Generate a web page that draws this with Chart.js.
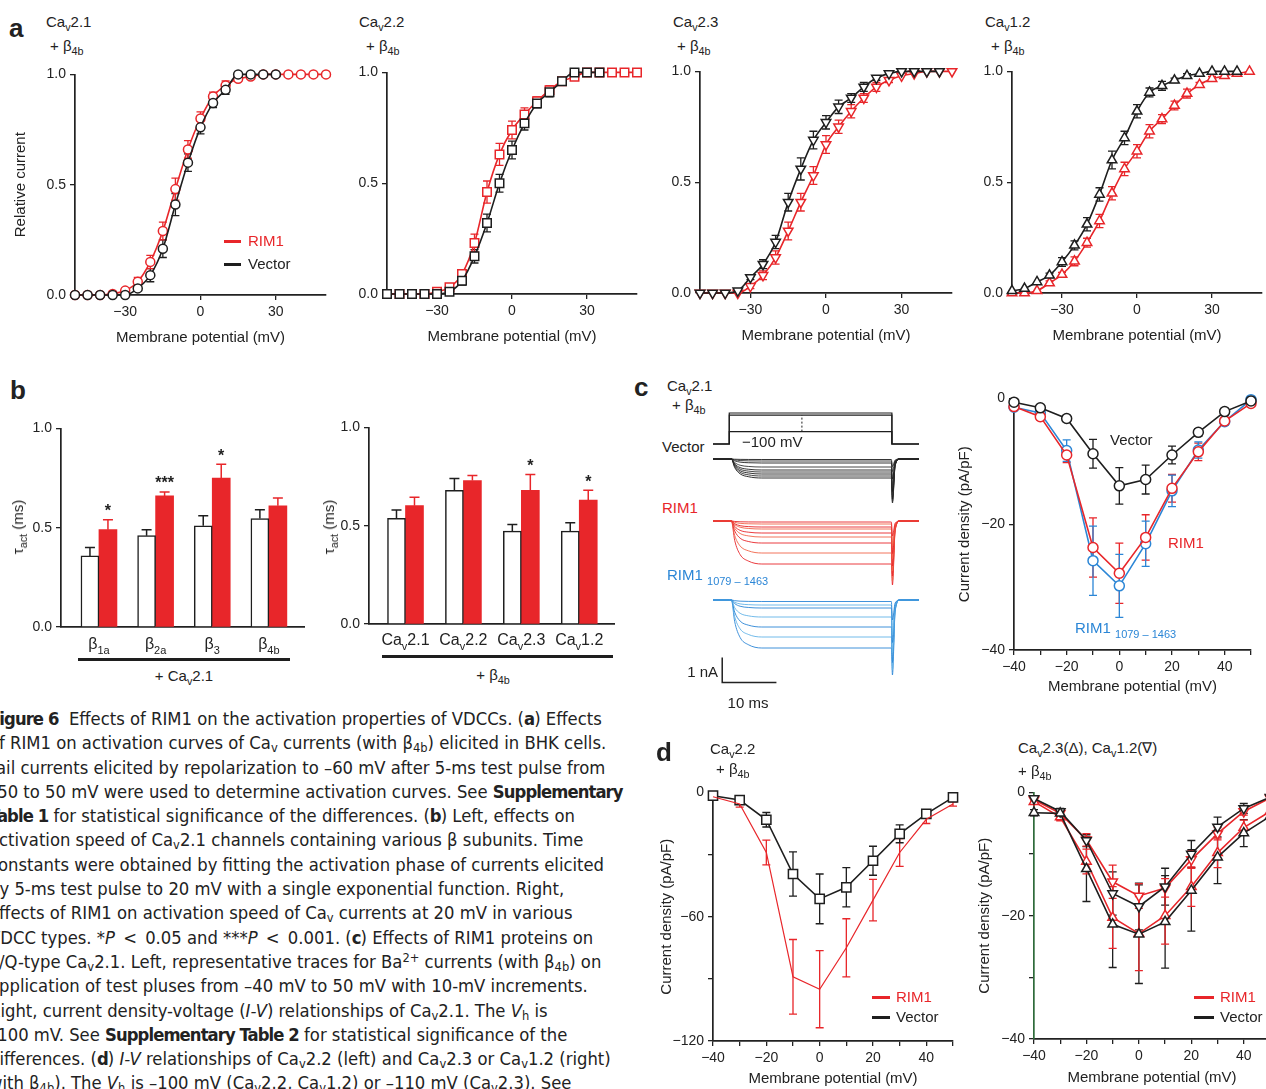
<!DOCTYPE html>
<html>
<head>
<meta charset="utf-8">
<script src="https://cdn.jsdelivr.net/npm/chart.js@4.4.1/dist/chart.umd.min.js"></script>
<style>
html, body { margin: 0; padding: 0; background: #fff; overflow: hidden; }
#page { position: relative; width: 1266px; height: 1089px; overflow: hidden; background: #fff;
        font-family: "Liberation Sans", Arial, Helvetica, sans-serif; color: #222; }
#page canvas { position: absolute; }
.t { position: absolute; white-space: nowrap; font-size: 14px; line-height: 16px; }
.big { font-size: 15px; }
.panel { font-weight: bold; font-size: 26px; line-height: 28px; }
.t sub { font-size: 72%; vertical-align: -0.35em; line-height: 0; }
.red { color: #e8262a; }
.blue { color: #2b86d6; }
.key { position: absolute; height: 3px; }
#caption { position: absolute; left: -11px; top: 707px; transform-origin: 0 0; transform: scaleX(1.015);
           font-family: "Liberation Sans Narrow", "DejaVu Sans Condensed", "Liberation Sans", sans-serif;
           font-size: 18px; color: #222; }
#caption div { height: 24.3px; line-height: 24.3px; white-space: nowrap; }
#caption b { letter-spacing: -0.9px; }
#caption sub { font-size: 70%; vertical-align: -0.25em; line-height: 0; }
#caption sup { font-size: 70%; vertical-align: 0.5em; line-height: 0; }
</style>
</head>
<body>
<div id="page"></div>
<script>
// ---- data ----
const aVolts = [-50, -45, -40, -35, -30, -25, -20, -15, -10, -5, 0, 5, 10, 15, 20, 25, 30, 35, 40, 45, 50];

// a: relative current (activation curves)
const a1Rim = [0, 0, 0, 0.005, 0.02, 0.06, 0.15, 0.29, 0.48, 0.66, 0.80, 0.90, 0.95, 0.98, 0.99, 1, 1, 1, 1, 1, 1];
const a1RimErr = [0, 0, 0, 0, 0.01, 0.02, 0.03, 0.04, 0.05, 0.04, 0.03, 0.02, 0.02, 0.01, 0, 0, 0, 0, 0, 0, 0];
const a1Vec = [0, 0, 0, 0, 0, 0.03, 0.09, 0.21, 0.41, 0.60, 0.76, 0.87, 0.93, 1, 1, 1, 1];
const a1VecErr = [0, 0, 0, 0, 0, 0.01, 0.03, 0.04, 0.05, 0.04, 0.03, 0.02, 0.02, 0, 0, 0, 0];

const a2Rim = [0, 0, 0, 0, 0.01, 0.03, 0.09, 0.23, 0.46, 0.63, 0.74, 0.81, 0.87, 0.92, 0.96, 0.98, 1, 1, 1, 1, 1];
const a2RimErr = [0, 0, 0, 0, 0, 0.01, 0.02, 0.04, 0.05, 0.05, 0.04, 0.03, 0.02, 0.02, 0.01, 0, 0, 0, 0, 0, 0];
const a2Vec = [0, 0, 0, 0, 0, 0.01, 0.06, 0.17, 0.32, 0.50, 0.65, 0.77, 0.86, 0.91, 0.96, 1, 1, 1];
const a2VecErr = [0, 0, 0, 0, 0, 0.01, 0.02, 0.03, 0.04, 0.04, 0.04, 0.03, 0.02, 0.02, 0.01, 0, 0, 0];

const a3Rim = [0, 0, 0, 0, 0.03, 0.08, 0.16, 0.28, 0.41, 0.53, 0.67, 0.75, 0.82, 0.88, 0.93, 0.96, 0.98, 0.99, 1, 1, 1];
const a3RimErr = [0, 0, 0, 0, 0.01, 0.02, 0.03, 0.04, 0.04, 0.04, 0.04, 0.03, 0.03, 0.02, 0.02, 0.01, 0, 0, 0, 0, 0];
const a3Vec = [0, 0, 0, 0.01, 0.07, 0.13, 0.23, 0.41, 0.56, 0.69, 0.77, 0.84, 0.88, 0.93, 0.97, 0.99, 1, 1, 1, 1];
const a3VecErr = [0, 0, 0, 0, 0.01, 0.02, 0.03, 0.04, 0.05, 0.04, 0.03, 0.03, 0.02, 0.02, 0.01, 0, 0, 0, 0, 0];

const a4Rim = [0, 0, 0.01, 0.045, 0.083, 0.143, 0.227, 0.325, 0.45, 0.56, 0.64, 0.73, 0.785, 0.846, 0.90, 0.94, 0.967, 0.98, 0.99, 1];
const a4RimErr = [0, 0, 0, 0.01, 0.01, 0.02, 0.02, 0.03, 0.03, 0.03, 0.03, 0.03, 0.02, 0.02, 0.02, 0.01, 0.01, 0, 0, 0];
const a4Vec = [0.01, 0.02, 0.05, 0.08, 0.14, 0.215, 0.31, 0.445, 0.60, 0.70, 0.82, 0.905, 0.935, 0.96, 0.98, 0.99, 1, 1, 1];
const a4VecErr = [0, 0, 0, 0.01, 0.02, 0.02, 0.03, 0.03, 0.04, 0.03, 0.03, 0.02, 0.02, 0.01, 0.01, 0, 0, 0, 0];

const aXTicks = [-30, 0, 30];
const aYTicks = [0, 0.5, 1];
const aYLabels = ["0.0", "0.5", "1.0"];

// b: activation time constants (ms)
const betaLabels = ["\u03B2_{1a}", "\u03B2_{2a}", "\u03B2_{3}", "\u03B2_{4b}"];
const tauVecBeta = [0.358, 0.46, 0.51, 0.546];
const tauVecBetaErr = [0.042, 0.03, 0.05, 0.044];
const tauRimBeta = [0.49, 0.66, 0.75, 0.61];
const tauRimBetaErr = [0.05, 0.02, 0.07, 0.04];
const starsBeta = ["*", "***", "*", ""];

const cavLabels = ["Ca_{v}2.1", "Ca_{v}2.2", "Ca_{v}2.3", "Ca_{v}1.2"];
const tauVecCav = [0.538, 0.68, 0.472, 0.472];
const tauVecCavErr = [0.042, 0.06, 0.034, 0.043];
const tauRimCav = [0.602, 0.73, 0.68, 0.63];
const tauRimCavErr = [0.043, 0.025, 0.08, 0.05];
const starsCav = ["", "", "*", "*"];

// c left: current traces (ms, nA)
const traceT = [-3, 0, 0.4, 1, 2, 3.5, 6, 29.9, 30.1, 30.6, 31.5, 35];
const activationFrac = [0, 0, 0, 0.45, 0.78, 0.93, 1, 1];
const tailFrac = [1, 0.15, 0, 0];
const vectorLevels = [-0.02, -0.08, -0.16, -0.32, -0.44, -0.52, -0.6, -0.68, -0.76];
const vectorTails = [-0.3, -0.5, -0.8, -1.1, -1.3, -1.45, -1.6, -1.7, -1.76];
const rimLevels = [-0.04, -0.12, -0.24, -0.32, -0.48, -0.64, -0.88, -1.28, -1.72];
const rimTails = [-0.6, -1.0, -1.3, -1.5, -1.8, -2.0, -2.2, -2.4, -2.56];
const fragLevels = [-0.06, -0.2, -0.32, -0.68, -1.08, -1.48, -1.92];
const fragTails = [-0.8, -1.4, -1.7, -2.1, -2.5, -2.8, -3.0];
const protocolSteps = [-40, 40, 50];
const protocolHold = -100;
const pulseStart = 0;
const pulseEnd = 30;
const protocolDotT = 13.4;

// c right / d: I-V relationships (pA/pF)
const ivVolts = [-40, -30, -20, -10, 0, 10, 20, 30, 40, 50];
const ivXTicks = [-40, -30, -20, -10, 0, 10, 20, 30, 40, 50];

const c21Vec = [-0.6, -1.5, -3.2, -8.8, -13.9, -12.9, -9.0, -5.4, -2.1, -0.4];
const c21VecErr = [0.3, 0.4, 0.5, 2.3, 2.9, 2.3, 1.4, 0.6, 0.5, 0.3];
const c21Rim = [-1.3, -2.9, -9.0, -23.7, -27.8, -22.1, -14.3, -8.5, -3.6, -0.8];
const c21RimErr = [0.3, 0.5, 1.2, 4.7, 4.8, 3.6, 2.2, 1.4, 0.6, 0.3];
const c21Frag = [-1.4, -2.3, -8.3, -25.8, -29.8, -23.1, -14.7, -8.2, -3.7, -0.2];
const c21FragErr = [0.3, 0.5, 1.7, 5.5, 5.0, 3.6, 2.5, 1.3, 0.6, 0.3];

const d22Vec = [-1.6, -3.7, -13.2, -39.4, -51.4, -45.8, -33, -20, -10.4, -2.4];
const d22VecErr = [1, 1.5, 3.5, 10.7, 12, 9.5, 7, 4.3, 2, 1];
const d22Rim = [-2.1, -5.6, -29, -89, -95, -75, -52, -29, -13, -5.6];
const d22RimErr = [1, 1.5, 6, 18, 18.6, 14, 10, 6.7, 2, 1];

const d23Vec = [-3.3, -3.4, -12.4, -21.4, -23, -21, -15.9, -10.5, -6.6, -3.9];
const d23VecErr = [0.5, 0.6, 5.3, 7, 8, 7.5, 6.6, 4.3, 2.2, 1];
const d23Rim = [-1.5, -4, -11.2, -20.3, -22.9, -20, -15.3, -9.8, -5.7, -3.1];
const d23RimErr = [0.4, 0.6, 2, 5, 6, 4.6, 3.2, 2.4, 1.2, 0.8];
const d12Vec = [-1, -3.1, -7.8, -16.4, -18.5, -15.3, -10, -5.6, -2.6, -0.8];
const d12VecErr = [0.4, 0.5, 1, 3.5, 3.8, 3, 2.2, 1.6, 0.8, 0.4];
const d12Rim = [-1.2, -3.4, -7.7, -14.5, -16.8, -15.5, -10.9, -6.7, -3.1, -0.9];
const d12RimErr = [0.3, 0.5, 1, 2.7, 2, 1.5, 1.4, 1, 0.6, 0.3];

// ---- styles ----
const BLACK = "#1e1e1e";
const RED = "#e8262a";
const BLUE = "#2b86d6";
const LIGHTBLUE = "#63b3e8";
const FONT = "'Liberation Sans', Arial, Helvetica, sans-serif";

Chart.defaults.font.family = FONT;
Chart.defaults.font.size = 14;
Chart.defaults.color = "#222";

const page = document.getElementById("page");

function fmt(v) {
    return v < 0 ? "\u2212" + Math.abs(v) : String(v);
}

// error bars drawn from each dataset's "errors" array through its own y scale
const errorBars = {
    id: "errorBars",
    beforeDatasetsDraw(chart) {
        const ctx = chart.ctx;
        chart.data.datasets.forEach((ds, i) => {
            if (!ds.errors) return;
            const meta = chart.getDatasetMeta(i);
            const ys = chart.scales[meta.yAxisID];
            const cap = ds.errCap || 4;
            ctx.save();
            ctx.strokeStyle = ds.errColor || ds.borderColor;
            ctx.lineWidth = ds.errWidth || 1.3;
            meta.data.forEach((el, j) => {
                const e = ds.errors[j];
                if (!e) return;
                const v = meta.controller.getParsed(j).y;
                const top = ys.getPixelForValue(v + e);
                const bot = ds.errUp ? ys.getPixelForValue(v) : ys.getPixelForValue(v - e);
                ctx.beginPath();
                ctx.moveTo(el.x, bot);
                ctx.lineTo(el.x, top);
                ctx.moveTo(el.x - cap, top);
                ctx.lineTo(el.x + cap, top);
                if (!ds.errUp) {
                    ctx.moveTo(el.x - cap, bot);
                    ctx.lineTo(el.x + cap, bot);
                }
                ctx.stroke();
            });
            ctx.restore();
        });
    }
};

function drawRich(ctx, text, cx, cy, size, color) {
    const parts = [];
    text.split(/(_\{[^}]*\})/).forEach(p => {
        if (!p) return;
        if (p.startsWith("_{")) parts.push({ s: p.slice(2, -1), sub: true });
        else parts.push({ s: p, sub: false });
    });
    const fMain = size + "px " + FONT;
    const fSub = Math.round(size * 0.7) + "px " + FONT;
    let w = 0;
    parts.forEach(p => {
        ctx.font = p.sub ? fSub : fMain;
        p.w = ctx.measureText(p.s).width;
        w += p.w;
    });
    let x = cx - w / 2;
    ctx.save();
    ctx.fillStyle = color || "#222";
    ctx.textBaseline = "middle";
    ctx.textAlign = "left";
    parts.forEach(p => {
        ctx.font = p.sub ? fSub : fMain;
        ctx.fillText(p.s, x, cy + (p.sub ? size * 0.38 : 0));
        x += p.w;
    });
    ctx.restore();
}

// category labels with subscripts, and significance stars above the RIM1 bars
const richTicks = {
    id: "richTicks",
    afterDraw(chart, args, opts) {
        if (!opts || !opts.labels) return;
        const ctx = chart.ctx;
        const xs = chart.scales.x;
        const ys = chart.scales.y;
        opts.labels.forEach((txt, i) => {
            drawRich(ctx, txt, xs.getPixelForValue(i), chart.chartArea.bottom + opts.dy, opts.size);
        });
        const meta = chart.getDatasetMeta(1);
        const ds = chart.data.datasets[1];
        ctx.save();
        ctx.fillStyle = "#222";
        ctx.font = "bold 16px " + FONT;
        ctx.textAlign = "center";
        ctx.textBaseline = "top";
        opts.stars.forEach((s, i) => {
            if (!s) return;
            const top = ys.getPixelForValue(meta.controller.getParsed(i).y + ds.errors[i]);
            ctx.fillText(s, meta.data[i].x, top - 16);
        });
        ctx.restore();
    }
};

// scale bar for the traces, drawn in data units
const scaleBar = {
    id: "scaleBar",
    afterDraw(chart, args, opts) {
        if (!opts || opts.ms === undefined) return;
        const xs = chart.scales.x, ys = chart.scales.y, ctx = chart.ctx;
        const x0 = xs.getPixelForValue(opts.t), y0 = ys.getPixelForValue(opts.i);
        const y1 = ys.getPixelForValue(opts.i - opts.nA);
        const x1 = xs.getPixelForValue(opts.t + opts.ms);
        ctx.save();
        ctx.strokeStyle = "#222";
        ctx.lineWidth = 1.5;
        ctx.beginPath();
        ctx.moveTo(x0, y0);
        ctx.lineTo(x0, y1);
        ctx.lineTo(x1, y1);
        ctx.stroke();
        ctx.restore();
    }
};

Chart.register(errorBars, richTicks, scaleBar);

function axis(min, max, tickValues, tickLabels, title) {
    return {
        type: "linear",
        min: min,
        max: max,
        afterBuildTicks: s => { s.ticks = tickValues.map(v => ({ value: v })); },
        ticks: {
            autoSkip: false,
            maxRotation: 0,
            padding: 4,
            font: { size: 14 },
            callback: (v, i) => tickLabels[i]
        },
        grid: { display: true, drawOnChartArea: false, drawTicks: true, tickLength: 5, color: "#222", lineWidth: 1.3 },
        border: { display: true, color: "#222", width: 1.7 },
        title: title ? { display: true, text: title, padding: 0, font: { size: 15 } } : { display: false }
    };
}

// box: chart area in page pixels (L, T, R, B), axis sizes yw / xh, padding pt / pr
function place(box, config) {
    const c = document.createElement("canvas");
    const w = Math.round(box.yw + (box.R - box.L) + box.pr);
    const h = Math.round(box.pt + (box.B - box.T) + box.xh);
    c.width = w;
    c.height = h;
    c.style.left = (box.L - box.yw) + "px";
    c.style.top = (box.T - box.pt) + "px";
    c.style.width = w + "px";
    c.style.height = h + "px";
    page.appendChild(c);
    const o = config.options;
    o.responsive = false;
    o.animation = false;
    o.events = [];
    o.layout = { padding: { top: box.pt, right: box.pr, left: 0, bottom: 0 } };
    o.plugins = Object.assign({ legend: { display: false }, tooltip: { enabled: false } }, o.plugins || {});
    o.scales.x.afterFit = s => { s.height = box.xh; };
    o.scales.y.afterFit = s => { s.width = box.yw; };
    return new Chart(c, config);
}

function txt(html, x, y, cls, anchor, rot) {
    const d = document.createElement("div");
    d.className = "t " + (cls || "");
    d.innerHTML = html;
    d.style.left = x + "px";
    d.style.top = y + "px";
    const tx = anchor === "c" ? "-50%" : anchor === "r" ? "-100%" : "0";
    d.style.transform = "translate(" + tx + ",-50%)" + (rot ? " rotate(" + rot + "deg)" : "");
    page.appendChild(d);
}

function key(x, y, w, color) {
    const d = document.createElement("div");
    d.className = "key";
    d.style.left = x + "px";
    d.style.top = (y - 1.5) + "px";
    d.style.width = w + "px";
    d.style.background = color;
    page.appendChild(d);
}

function series(xs, ys, errs, color, marker, extra) {
    return Object.assign({
        data: ys.map((y, i) => ({ x: xs[i], y: y })),
        errors: errs,
        borderColor: color,
        backgroundColor: "#fff",
        borderWidth: 1.6,
        pointStyle: marker.style,
        pointRotation: marker.rot || 0,
        pointRadius: marker.r,
        pointBorderWidth: 1.5,
        pointBackgroundColor: "#fff",
        pointBorderColor: color,
        clip: false
    }, extra || {});
}

// ---- panel a ----
function activationChart(box, rim, rimErr, vec, vecErr, marker, yTitle) {
    const smooth = { cubicInterpolationMode: "monotone" };
    return place(box, {
        type: "line",
        data: {
            datasets: [
                series(aVolts, vec, vecErr, BLACK, marker, smooth),
                series(aVolts, rim, rimErr, RED, marker, smooth)
            ]
        },
        options: {
            scales: {
                x: axis(-50, 50, aXTicks, aXTicks.map(fmt), "Membrane potential (mV)"),
                y: axis(0, 1, aYTicks, aYLabels, yTitle)
            }
        }
    });
}

activationChart({ L: 75, T: 74, R: 326, B: 295, yw: 63, xh: 52, pt: 12, pr: 12 },
    a1Rim, a1RimErr, a1Vec, a1VecErr, { style: "circle", r: 4.5 }, "Relative current");
activationChart({ L: 387, T: 72, R: 637, B: 294, yw: 45, xh: 52, pt: 12, pr: 12 },
    a2Rim, a2RimErr, a2Vec, a2VecErr, { style: "rect", r: 6 }, null);
activationChart({ L: 700, T: 71, R: 952, B: 293, yw: 45, xh: 52, pt: 12, pr: 12 },
    a3Rim, a3RimErr, a3Vec, a3VecErr, { style: "triangle", r: 5.5, rot: 180 }, null);
activationChart({ L: 1012, T: 71, R: 1262, B: 293, yw: 45, xh: 52, pt: 12, pr: 8 },
    a4Rim, a4RimErr, a4Vec, a4VecErr, { style: "triangle", r: 5.5 }, null);

txt("a", 9, 28, "panel");
txt("Ca<sub>v</sub>2.1", 46, 22, "big");
txt("+ &beta;<sub>4b</sub>", 50, 46, "big");
txt("Ca<sub>v</sub>2.2", 359, 22, "big");
txt("+ &beta;<sub>4b</sub>", 366, 46, "big");
txt("Ca<sub>v</sub>2.3", 673, 22, "big");
txt("+ &beta;<sub>4b</sub>", 677, 46, "big");
txt("Ca<sub>v</sub>1.2", 985, 22, "big");
txt("+ &beta;<sub>4b</sub>", 991, 46, "big");
key(224, 241, 17, RED);
txt("RIM1", 248, 241, "red big");
key(224, 264, 17, BLACK);
txt("Vector", 248, 264, "big");

// ---- panel b ----
function tauChart(box, xMin, xMax, labels, vec, vecErr, rim, rimErr, stars, dy) {
    const pts = ys => ys.map((y, i) => ({ x: i, y: y }));
    return place(box, {
        type: "bar",
        data: {
            datasets: [
                { data: pts(vec), errors: vecErr, errUp: true, errColor: BLACK, errCap: 5, errWidth: 1.5,
                  backgroundColor: "#fff", borderColor: BLACK, borderWidth: 1.5, barThickness: 18 },
                { data: pts(rim), errors: rimErr, errUp: true, errColor: RED, errCap: 5, errWidth: 1.5,
                  backgroundColor: RED, borderColor: RED, borderWidth: 0, barThickness: 18 }
            ]
        },
        options: {
            plugins: { richTicks: { labels: labels, dy: dy, size: 16, stars: stars } },
            scales: {
                x: { type: "linear", min: xMin, max: xMax, offset: false,
                     ticks: { display: false }, grid: { display: false },
                     border: { display: true, color: "#222", width: 1.7 } },
                y: axis(0, 1, aYTicks, aYLabels, null)
            }
        }
    });
}

tauChart({ L: 61, T: 428, R: 304, B: 627, yw: 45, xh: 30, pt: 12, pr: 6 },
    -0.67, 3.62, betaLabels, tauVecBeta, tauVecBetaErr, tauRimBeta, tauRimBetaErr, starsBeta, 18);
tauChart({ L: 369, T: 427, R: 614, B: 624, yw: 45, xh: 30, pt: 12, pr: 6 },
    -0.63, 3.6, cavLabels, tauVecCav, tauVecCavErr, tauRimCav, tauRimCavErr, starsCav, 17);

txt("b", 10, 390, "panel");
txt("&tau;<sub>act</sub> (ms)", 18, 527, "big", "c", -90);
txt("&tau;<sub>act</sub> (ms)", 329, 527, "big", "c", -90);
key(78, 659, 212, BLACK);
txt("+ Ca<sub>v</sub>2.1", 184, 676, "big", "c");
key(382, 656, 231, BLACK);
txt("+ &beta;<sub>4b</sub>", 493, 675, "big", "c");

// ---- panel c, left: protocol and traces ----
function traceSets(levels, tails, colors) {
    return levels.map((lv, k) => ({
        data: traceT.map((t, j) => ({
            x: t,
            y: j < activationFrac.length ? lv * activationFrac[j] : tails[k] * tailFrac[j - activationFrac.length]
        })),
        borderColor: colors[k % colors.length],
        borderWidth: 0.9,
        pointRadius: 0,
        cubicInterpolationMode: "monotone",
        clip: false
    }));
}

function hiddenScales(yMin, yMax) {
    return {
        x: { type: "linear", display: false, min: -3, max: 35 },
        y: { type: "linear", display: false, min: yMin, max: yMax }
    };
}

const protocolSets = protocolSteps.map(v => ({
    data: [
        { x: -3, y: protocolHold }, { x: pulseStart, y: protocolHold }, { x: pulseStart, y: v },
        { x: pulseEnd, y: v }, { x: pulseEnd, y: protocolHold }, { x: 35, y: protocolHold }
    ],
    borderColor: BLACK, borderWidth: 1.2, pointRadius: 0, clip: false
}));
protocolSets.push({
    data: [{ x: protocolDotT, y: protocolSteps[0] }, { x: protocolDotT, y: protocolSteps[1] }],
    borderColor: BLACK, borderWidth: 1, borderDash: [2, 2], pointRadius: 0, clip: false
});

place({ L: 713, T: 405, R: 919, B: 450, yw: 0, xh: 0, pt: 0, pr: 0 },
    { type: "line", data: { datasets: protocolSets }, options: { scales: hiddenScales(-129, 88.7) } });
place({ L: 713, T: 450, R: 919, B: 512, yw: 0, xh: 0, pt: 0, pr: 0 },
    { type: "line", data: { datasets: traceSets(vectorLevels, vectorTails, [BLACK, "#333"]) },
      options: { scales: hiddenScales(-2.12, 0.36) } });
place({ L: 713, T: 512, R: 919, B: 592, yw: 0, xh: 0, pt: 0, pr: 0 },
    { type: "line", data: { datasets: traceSets(rimLevels, rimTails, [RED, "#f0644a"]) },
      options: { scales: hiddenScales(-2.84, 0.36) } });
place({ L: 713, T: 592, R: 919, B: 700, yw: 0, xh: 0, pt: 0, pr: 0 },
    { type: "line", data: { datasets: traceSets(fragLevels, fragTails, [BLUE, LIGHTBLUE]) },
      options: { plugins: { scaleBar: { t: -1.3, i: -2.3, nA: 1, ms: 10 } }, scales: hiddenScales(-4, 0.32) } });

txt("c", 634, 387, "panel");
txt("Ca<sub>v</sub>2.1", 667, 386, "big");
txt("+ &beta;<sub>4b</sub>", 672, 405, "big");
txt("Vector", 662, 447, "big");
txt("\u2212100 mV", 742, 442, "big");
txt("RIM1", 662, 508, "red big");
txt("RIM1 <span style='font-size:11px;vertical-align:-5px'>1079 \u2013 1463</span>", 667, 578, "blue big");
txt("1 nA", 718, 672, "big", "r");
txt("10 ms", 748, 703, "big", "c");

// ---- panel c, right and panel d: I-V ----
function ivChart(box, yMin, yTicks, yLabels, sets, yBorder) {
    const y = axis(yMin, 0, yTicks, yLabels, "Current density (pA/pF)");
    if (yBorder) y.border.color = yBorder;
    return place(box, {
        type: "line",
        data: { datasets: sets },
        options: {
            scales: {
                x: axis(-40, 50, ivXTicks, ivXTicks.map(v => v % 20 === 0 ? fmt(v) : ""), "Membrane potential (mV)"),
                y: y
            }
        }
    });
}

const circle = { style: "circle", r: 5 };
const square = { style: "rect", r: 6.5 };
const up = { style: "triangle", r: 5.5 };
const down = { style: "triangle", r: 5.5, rot: 180 };

ivChart({ L: 1014, T: 398, R: 1251, B: 650, yw: 58, xh: 46, pt: 12, pr: 12 },
    -40, [0, -20, -40], ["0", "\u221220", "\u221240"], [
        series(ivVolts, c21Vec, c21VecErr, BLACK, circle),
        series(ivVolts, c21Rim, c21RimErr, RED, circle),
        series(ivVolts, c21Frag, c21FragErr, BLUE, circle)
    ]);
txt("Vector", 1110, 440, "big");
txt("RIM1", 1168, 543, "red big");
txt("RIM1 <span style='font-size:11px;vertical-align:-5px'>1079 \u2013 1463</span>", 1075, 631, "blue big");

ivChart({ L: 713, T: 792, R: 953, B: 1041, yw: 55, xh: 47, pt: 12, pr: 12 },
    -120, [0, -30, -60, -90, -120], ["0", "", "\u221260", "", "\u2212120"], [
        series(ivVolts, d22Rim, d22RimErr, RED, { style: "rect", r: 0 }, { borderWidth: 1.2 }),
        series(ivVolts, d22Vec, d22VecErr, BLACK, square)
    ]);

ivChart({ L: 1034, T: 792, R: 1270, B: 1039, yw: 58, xh: 48, pt: 12, pr: 10 },
    -40, [0, -10, -20, -30, -40], ["0", "", "\u221220", "", "\u221240"], [
        series(ivVolts, d23Vec, d23VecErr, BLACK, up),
        series(ivVolts, d12Vec, d12VecErr, BLACK, down),
        series(ivVolts, d23Rim, d23RimErr, RED, up),
        series(ivVolts, d12Rim, d12RimErr, RED, down)
    ], "#2f6b3a");

txt("d", 656, 752, "panel");
txt("Ca<sub>v</sub>2.2", 710, 749, "big");
txt("+ &beta;<sub>4b</sub>", 716, 769, "big");
txt("Ca<sub>v</sub>2.3(&Delta;), Ca<sub>v</sub>1.2(&nabla;)", 1018, 748, "big");
txt("+ &beta;<sub>4b</sub>", 1018, 771, "big");
key(872, 997, 18, RED);
txt("RIM1", 896, 997, "red big");
key(872, 1017, 18, BLACK);
txt("Vector", 896, 1017, "big");
key(1194, 997, 20, RED);
txt("RIM1", 1220, 997, "red big");
key(1194, 1017, 20, BLACK);
txt("Vector", 1220, 1017, "big");

// ---- caption ----
const captionLines = [
    "<b>Figure 6</b>&nbsp; Effects of RIM1 on the activation properties of VDCCs. (<b>a</b>) Effects",
    "of RIM1 on activation curves of Ca<sub>v</sub> currents (with &beta;<sub>4b</sub>) elicited in BHK cells.",
    "Tail currents elicited by repolarization to \u201360 mV after 5-ms test pulse from",
    "\u201350 to 50 mV were used to determine activation curves. See <b>Supplementary</b>",
    "<b>Table 1</b> for statistical significance of the differences. (<b>b</b>) Left, effects on",
    "activation speed of Ca<sub>v</sub>2.1 channels containing various &beta; subunits. Time",
    "constants were obtained by fitting the activation phase of currents elicited",
    "by 5-ms test pulse to 20 mV with a single exponential function. Right,",
    "effects of RIM1 on activation speed of Ca<sub>v</sub> currents at 20 mV in various",
    "VDCC types. *<i>P</i>&ensp;&lt;&ensp;0.05 and ***<i>P</i>&ensp;&lt;&ensp;0.001. (<b>c</b>) Effects of RIM1 proteins on",
    "P/Q-type Ca<sub>v</sub>2.1. Left, representative traces for Ba<sup>2+</sup> currents (with &beta;<sub>4b</sub>) on",
    "application of test pluses from \u201340 mV to 50 mV with 10-mV increments.",
    "Right, current density-voltage (<i>I-V</i>) relationships of Ca<sub>v</sub>2.1. The <i>V</i><sub>h</sub> is",
    "\u2013100 mV. See <b>Supplementary Table 2</b> for statistical significance of the",
    "differences. (<b>d</b>) <i>I-V</i> relationships of Ca<sub>v</sub>2.2 (left) and Ca<sub>v</sub>2.3 or Ca<sub>v</sub>1.2 (right)",
    "with &beta;<sub>4b</sub>). The <i>V</i><sub>h</sub> is \u2013100 mV (Ca<sub>v</sub>2.2, Ca<sub>v</sub>1.2) or \u2013110 mV (Ca<sub>v</sub>2.3). See"
];
const cap = document.createElement("div");
cap.id = "caption";
cap.innerHTML = captionLines.map(l => "<div>" + l + "</div>").join("");
page.appendChild(cap);
</script>
</body>
</html>
